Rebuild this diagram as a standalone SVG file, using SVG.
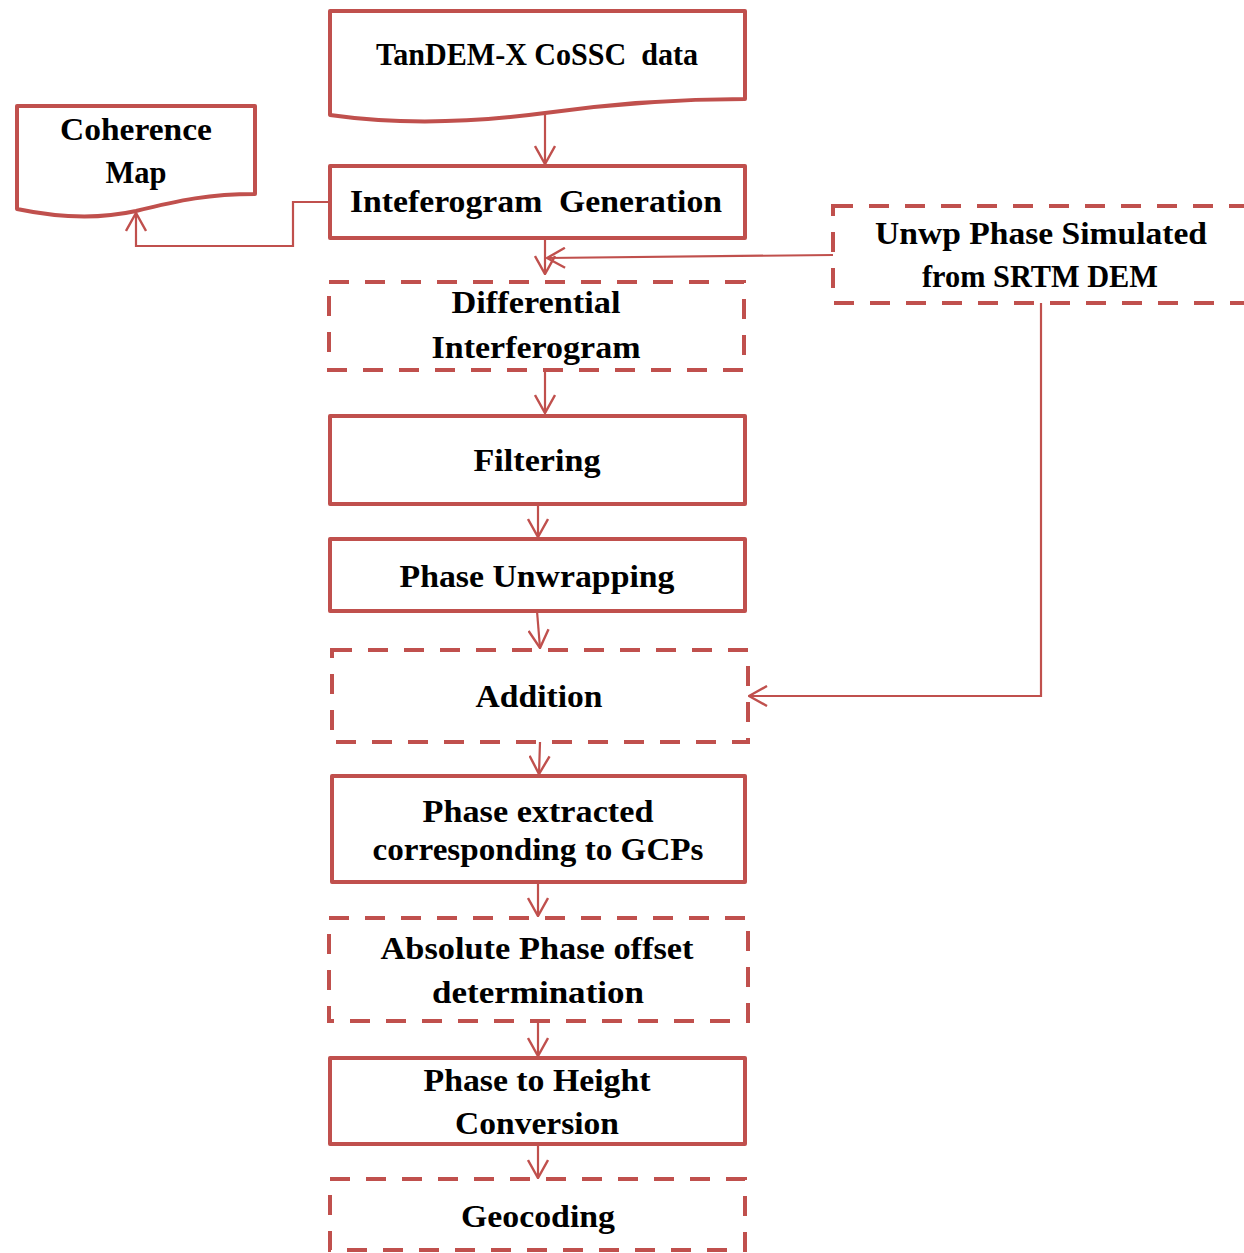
<svg xmlns="http://www.w3.org/2000/svg" width="1244" height="1253" viewBox="0 0 1244 1253">
<style>
.box{fill:#fff;stroke:#C0504D;stroke-width:4;stroke-linejoin:round}
.dash{fill:#fff;stroke:#C0504D;stroke-width:4;stroke-dasharray:20 16}
.con{fill:none;stroke:#C0504D;stroke-width:2.2}
text{font-family:"Liberation Serif","Times New Roman",serif;font-weight:bold;font-size:31px;fill:#000;text-anchor:middle;white-space:pre}
</style>
<defs>
<marker id="arr" viewBox="-1 -1 20 22" refX="18" refY="10" markerWidth="20" markerHeight="22" markerUnits="userSpaceOnUse" orient="auto">
<path d="M0,0 L18,10 L0,20" fill="none" stroke="#C0504D" stroke-width="2.4"/>
</marker>
</defs>
<rect width="1244" height="1253" fill="#fff"/>
<g id="connectors">
<path class="con" d="M545,114 V164" marker-end="url(#arr)"/>
<path class="con" d="M330,202 H293 V246 H136 V213" marker-end="url(#arr)"/>
<path class="con" d="M545,238 V274" marker-end="url(#arr)"/>
<path class="con" d="M833,255 L547,258" marker-end="url(#arr)"/>
<path class="con" d="M545,370 V413" marker-end="url(#arr)"/>
<path class="con" d="M538,504 V537" marker-end="url(#arr)"/>
<path class="con" d="M537,611 L540,648" marker-end="url(#arr)"/>
<path class="con" d="M1041,303 V696 H749" marker-end="url(#arr)"/>
<path class="con" d="M540,742 L539,774" marker-end="url(#arr)"/>
<path class="con" d="M538,882 V916" marker-end="url(#arr)"/>
<path class="con" d="M538,1021 V1056" marker-end="url(#arr)"/>
<path class="con" d="M538,1144 V1178" marker-end="url(#arr)"/>
</g>
<g id="tandem">
<path class="box" d="M330,11 H745 V99 C670,99 610,104 545,113 C470,123 400,125 330,115 Z"/>
<text x="537" y="65" textLength="322" lengthAdjust="spacingAndGlyphs" xml:space="preserve">TanDEM-X CoSSC  data</text>
</g>
<g id="coherence">
<path class="box" d="M17,106 H255 V194 C210,194 180,200 136,211 C100,219 60,218 17,209 Z"/>
<text x="136" y="140" textLength="152" lengthAdjust="spacingAndGlyphs">Coherence</text>
<text x="136" y="183" textLength="61" lengthAdjust="spacingAndGlyphs">Map</text>
</g>
<g id="interferogram-gen">
<rect class="box" x="330" y="166" width="415" height="72"/>
<text x="536" y="212" textLength="372" lengthAdjust="spacingAndGlyphs" xml:space="preserve">Inteferogram  Generation</text>
</g>
<g id="unwp">
<rect class="dash" x="833" y="206" width="430" height="97"/>
<text x="1041" y="244" textLength="332" lengthAdjust="spacingAndGlyphs">Unwp Phase Simulated</text>
<text x="1040" y="287" textLength="236" lengthAdjust="spacingAndGlyphs">from SRTM DEM</text>
</g>
<g id="differential">
<rect class="dash" x="329" y="282" width="415" height="88"/>
<text x="536" y="313" textLength="169" lengthAdjust="spacingAndGlyphs">Differential</text>
<text x="536" y="358" textLength="209" lengthAdjust="spacingAndGlyphs">Interferogram</text>
</g>
<g id="filtering">
<rect class="box" x="330" y="416" width="415" height="88"/>
<text x="537" y="471" textLength="127" lengthAdjust="spacingAndGlyphs">Filtering</text>
</g>
<g id="unwrapping">
<rect class="box" x="330" y="539" width="415" height="72"/>
<text x="537" y="587" textLength="275" lengthAdjust="spacingAndGlyphs">Phase Unwrapping</text>
</g>
<g id="addition">
<rect class="dash" x="332" y="650" width="416" height="92"/>
<text x="539" y="707" textLength="127" lengthAdjust="spacingAndGlyphs">Addition</text>
</g>
<g id="phase-extracted">
<rect class="box" x="332" y="776" width="413" height="106"/>
<text x="538" y="822" textLength="231" lengthAdjust="spacingAndGlyphs">Phase extracted</text>
<text x="538" y="860" textLength="331" lengthAdjust="spacingAndGlyphs">corresponding to GCPs</text>
</g>
<g id="absolute">
<rect class="dash" x="329" y="918" width="419" height="103"/>
<text x="537" y="959" textLength="313" lengthAdjust="spacingAndGlyphs">Absolute Phase offset</text>
<text x="538" y="1003" textLength="212" lengthAdjust="spacingAndGlyphs">determination</text>
</g>
<g id="height">
<rect class="box" x="330" y="1058" width="415" height="86"/>
<text x="537" y="1091" textLength="227" lengthAdjust="spacingAndGlyphs">Phase to Height</text>
<text x="537" y="1134" textLength="164" lengthAdjust="spacingAndGlyphs">Conversion</text>
</g>
<g id="geocoding">
<rect class="dash" x="330" y="1179" width="415" height="71"/>
<text x="538" y="1227" textLength="154" lengthAdjust="spacingAndGlyphs">Geocoding</text>
</g>
</svg>
